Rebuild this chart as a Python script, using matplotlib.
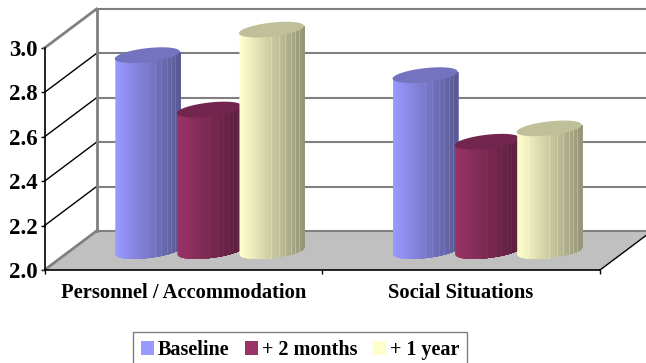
import numpy as np
import matplotlib
matplotlib.use('Agg')
import matplotlib.pyplot as plt
from matplotlib.patches import Patch, Polygon

categories = ['Personnel / Accommodation', 'Social Situations']
series_names = ['Baseline', '+ 2 months', '+ 1 year']
series_colors = ['#9999FF', '#993366', '#FFFFCC']
baseline = [2.88, 2.79]
two_months = [2.635, 2.49]
one_year = [2.995, 2.55]
y_ticks = [2.0, 2.2, 2.4, 2.6, 2.8, 3.0]

plt.rcParams['font.family'] = ['Liberation Serif', 'DejaVu Serif']
plt.rcParams['font.weight'] = 'bold'

W, H = 646, 363
fig = plt.figure(figsize=(W / 100, H / 100), dpi=100)
ax = fig.add_axes([44.5 / W, (H - 270) / H, 555.5 / W, 222 / H])
ax.set_xlim(0, 2)
ax.set_ylim(2, 3)

# depth of the 3d box, in data units
DX = 52 / 277.75
DY = 39 / 222
BAR_STEP = 0.2235
RX = 0.117      # cylinder half width
RY = 0.0315     # ellipse half height
SHEAR = 0.1376  # the ellipses lean up to the right
N_STRIPS = 40
# pale seams across the cylinder, as a fraction of its width
SEAMS = [0.18, 0.5, 0.62, 0.72, 0.8, 0.87, 0.93]


def shade(color, f):
    return tuple(min(c * f, 1.0) for c in matplotlib.colors.to_rgb(color))


def draw_box():
    gray = '#808080'
    floor = [(0, 2), (2, 2), (2 + DX, 2 + DY), (DX, 2 + DY)]
    ax.add_patch(Polygon(floor, fc='#C0C0C0', ec='none', clip_on=False, zorder=1))
    for t in y_ticks:
        # back wall line and its diagonal on the side wall
        ax.plot([DX, 2 + DX], [t + DY, t + DY], color=gray, lw=1.5, clip_on=False, zorder=2)
        edge = t in (y_ticks[0], y_ticks[-1])
        ax.plot([0, DX], [t, t + DY], color=gray if edge else 'black',
                lw=2 if edge else 1, clip_on=False, zorder=2)
    ax.plot([DX, DX], [2 + DY, 3 + DY], color=gray, lw=2, clip_on=False, zorder=2)
    ax.plot([2, 2 + DX], [2, 2 + DY], color='black', lw=1, clip_on=False, zorder=2)


def draw_cylinder(cx, value, color, z):
    y0 = 2 + DY / 2
    y1 = value + DY / 2
    fracs = np.linspace(0, 1, 120)
    xs = (2 * fracs - 1) * RX
    lean = SHEAR * xs
    low = y0 + lean - RY * np.sqrt(np.clip(1 - (xs / RX) ** 2, 0, 1))
    high = y1 + lean
    # paint from the left, each strip running on to the right edge
    for i in range(N_STRIPS):
        k = i * len(fracs) // N_STRIPS
        f = 1.0 - 0.42 * i / (N_STRIPS - 1)
        ax.fill_between(cx + xs[k:], low[k:], high[k:], color=shade(color, f),
                        lw=0, clip_on=False, zorder=z)
    for s in SEAMS:
        k = int(s * (len(fracs) - 1))
        ax.plot([cx + xs[k]] * 2, [low[k], high[k]], color=shade(color, 1.0 - 0.25 * s),
                lw=0.5, clip_on=False, zorder=z + 0.2)
    t = np.linspace(0, 2 * np.pi, 80)
    ex = np.cos(t) * RX
    top = np.column_stack([cx + ex, y1 + SHEAR * ex + RY * np.sin(t)])
    ax.add_patch(Polygon(top, fc=shade(color, 0.75), ec='none', clip_on=False, zorder=z + 0.5))


draw_box()

z = 3
for i, cat_x in enumerate([0.5, 1.5]):
    values = [baseline[i], two_months[i], one_year[i]]
    for j, v in enumerate(values):
        draw_cylinder(cat_x + DX / 2 + (j - 1) * BAR_STEP, v, series_colors[j], z)
        z += 1

for side in ['top', 'right']:
    ax.spines[side].set_visible(False)
for side in ['left', 'bottom']:
    ax.spines[side].set_linewidth(1.2)
    ax.spines[side].set_zorder(2.5)

ax.set_yticks(y_ticks)
ax.set_yticklabels([f'{t:.1f}' for t in y_ticks], fontsize=16.5, fontweight='bold')
ax.tick_params(axis='y', length=3, width=1, pad=2)
ax.set_xticks([0, 1, 2])
ax.set_xticklabels([])
ax.tick_params(axis='x', which='major', length=3, width=1)
ax.set_xticks([0.5, 1.5], minor=True)
ax.set_xticklabels(categories, minor=True, fontsize=14.8, fontweight='bold')
ax.tick_params(axis='x', which='minor', length=0, pad=9)

handles = [Patch(fc=c, ec='none') for c in series_colors]
fig.legend(handles, series_names, loc='upper left',
           bbox_to_anchor=(133 / W, (H - 332) / H), ncol=3, fontsize=14.5,
           frameon=True, fancybox=False, framealpha=1, edgecolor='#808080',
           handlelength=0.65, handleheight=0.65, handletextpad=0.2,
           columnspacing=0.75, borderpad=0.4, borderaxespad=0)

fig.savefig('out.png', dpi=100)
